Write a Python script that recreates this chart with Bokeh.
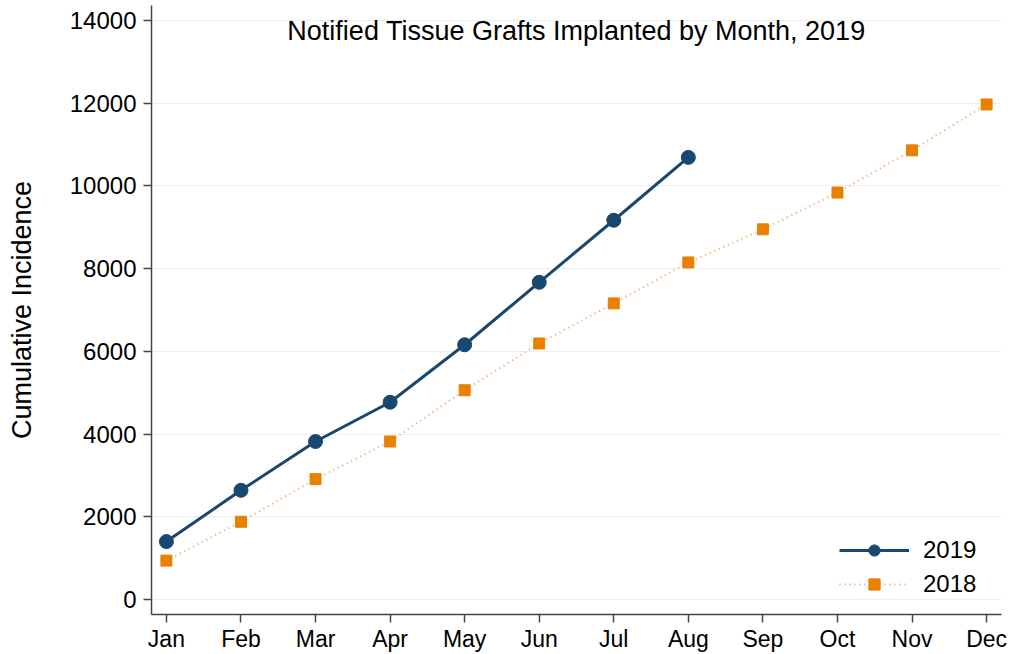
from bokeh.plotting import figure
from bokeh.models import Range1d, FixedTicker, Legend, LegendItem, Label, ColumnDataSource
from bokeh.embed import file_html
from bokeh.resources import INLINE

months = ["Jan", "Feb", "Mar", "Apr", "May", "Jun", "Jul", "Aug", "Sep", "Oct", "Nov", "Dec"]
month_num = list(range(1, 13))
vals_2019 = [1400, 2640, 3820, 4770, 6160, 7670, 9170, 10690]
vals_2018 = [940, 1880, 2910, 3820, 5060, 6190, 7160, 8150, 8950, 9840, 10860, 11970]
y_ticks = [0, 2000, 4000, 6000, 8000, 10000, 12000, 14000]

FONT = "Liberation Sans"
NAVY = "#1a476f"
ORANGE = "#e88000"

p = figure(width=1009, height=654, output_backend="svg", toolbar_location=None,
           x_range=Range1d(0.8, 12.2), y_range=Range1d(-363, 14363),
           min_border_left=151, min_border_right=8, min_border_top=5, min_border_bottom=40)
p.outline_line_color = None
p.background_fill_color = "white"
p.border_fill_color = "white"

for ax in (p.xaxis[0], p.yaxis[0]):
    ax.axis_line_color = "#444444"
    ax.axis_line_width = 1.5
    ax.major_tick_line_color = "#444444"
    ax.major_tick_line_width = 1.5
    ax.major_tick_out = 8
    ax.major_tick_in = 0
    ax.minor_tick_line_color = None
    ax.major_label_text_font = FONT
    ax.major_label_text_color = "#000000"

p.xaxis.major_label_text_font_size = "23px"
p.yaxis.major_label_text_font_size = "24px"
p.xaxis.major_label_standoff = 3
p.yaxis.major_label_standoff = 7
p.xaxis.ticker = FixedTicker(ticks=month_num)
p.xaxis.major_label_overrides = {m: lab for m, lab in zip(month_num, months)}
p.yaxis.ticker = FixedTicker(ticks=y_ticks)
p.yaxis.axis_label = "Cumulative Incidence"
p.yaxis.axis_label_text_font = FONT
p.yaxis.axis_label_text_font_size = "27px"
p.yaxis.axis_label_text_font_style = "normal"
p.yaxis.axis_label_text_color = "#000000"
p.yaxis.axis_label_standoff = 30

p.xgrid.grid_line_color = None
p.ygrid.grid_line_color = "#eaf0f0"
p.ygrid.grid_line_width = 1.2

src19 = ColumnDataSource(dict(x=month_num[:len(vals_2019)], y=vals_2019))
src18 = ColumnDataSource(dict(x=month_num, y=vals_2018))

l18 = p.line("x", "y", source=src18, line_color="#f0a050", line_width=2, line_dash="1 4")
m18 = p.scatter("x", "y", source=src18, marker="square", size=11, fill_color=ORANGE, line_color=ORANGE)
l19 = p.line("x", "y", source=src19, line_color=NAVY, line_width=3)
m19 = p.scatter("x", "y", source=src19, marker="circle", size=14, fill_color=NAVY, line_color=NAVY)

legend = Legend(items=[LegendItem(label="2019", renderers=[l19, m19]),
                       LegendItem(label="2018", renderers=[l18, m18])],
                location=(688, 16))
legend.label_text_font = FONT
legend.label_text_font_size = "24px"
legend.label_text_color = "#000000"
legend.glyph_width = 70
legend.glyph_height = 28
legend.label_height = 28
legend.spacing = 6
legend.padding = 8
legend.margin = 0
legend.label_standoff = 14
legend.border_line_color = None
legend.background_fill_color = "white"
legend.background_fill_alpha = 1.0
p.add_layout(legend)

title = Label(x=6.5, y=13757, text="Notified Tissue Grafts Implanted by Month, 2019",
              text_align="center", text_baseline="middle", text_font=FONT,
              text_font_size="27px", text_color="#000000")
p.add_layout(title)

open("out.html", "w").write(file_html(p, INLINE))
